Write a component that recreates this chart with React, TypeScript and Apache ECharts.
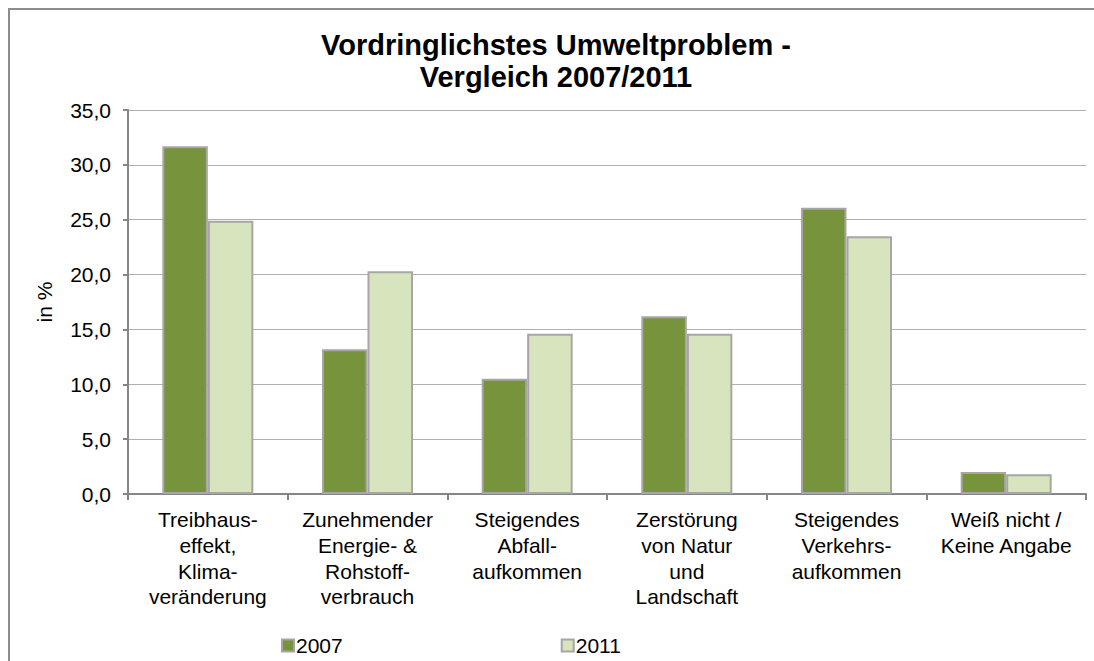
import React, { useEffect, useRef } from "react";
import * as echarts from "echarts";

const categories = [
  "Treibhaus-\neffekt,\nKlima-\nveränderung",
  "Zunehmender\nEnergie- &\nRohstoff-\nverbrauch",
  "Steigendes\nAbfall-\naufkommen",
  "Zerstörung\nvon Natur\nund\nLandschaft",
  "Steigendes\nVerkehrs-\naufkommen",
  "Weiß nicht /\nKeine Angabe",
];
const values2007 = [31.7, 13.2, 10.5, 16.2, 26.1, 2.0];
const values2011 = [24.9, 20.3, 14.6, 14.6, 23.5, 1.8];
const seriesNames = ["2007", "2011"];
const titleText = "Vordringlichstes Umweltproblem -\nVergleich 2007/2011";
const yAxisName = "in %";

const FONT = "'Liberation Sans', Arial, sans-serif";

export default function App() {
  const ref = useRef<HTMLDivElement>(null);
  useEffect(() => {
    document.body.style.margin = "0";
    document.documentElement.style.overflow = "hidden";
    if (!ref.current) return;
    const chart = echarts.init(ref.current, null, { renderer: "svg" });
    chart.setOption({
      animation: false,
      backgroundColor: "#ffffff",
      textStyle: { fontFamily: FONT },
      title: {
        text: titleText,
        left: 541,
        textAlign: "center",
        top: 14,
        textStyle: {
          fontFamily: FONT,
          fontSize: 29,
          fontWeight: "bold",
          color: "#000",
          lineHeight: 32,
        },
      },
      legend: {
        data: seriesNames,
        left: 266,
        top: 620,
        itemWidth: 12,
        itemHeight: 12,
        itemGap: 218,
        icon: "rect",
        textStyle: { fontFamily: FONT, fontSize: 21, color: "#000", padding: [0, 0, 0, -3] },
      },
      grid: { left: 118, right: 8, top: 100, bottom: 167, containLabel: false },
      xAxis: {
        type: "category",
        data: categories,
        axisLine: { show: true, lineStyle: { color: "#868686", width: 2 } },
        axisTick: { show: true, length: 6, interval: 0, lineStyle: { color: "#868686", width: 2 } },
        axisLabel: {
          interval: 0,
          margin: 13,
          fontFamily: FONT,
          fontSize: 21,
          color: "#000",
          lineHeight: 25.7,
          align: "center",
        },
      },
      yAxis: {
        type: "value",
        min: 0,
        max: 35,
        interval: 5,
        name: yAxisName,
        nameLocation: "middle",
        nameGap: 73,
        nameRotate: 90,
        nameTextStyle: { fontFamily: FONT, fontSize: 21, color: "#000" },
        axisLine: { show: true, lineStyle: { color: "#868686", width: 2 } },
        axisTick: { show: true, length: 5, lineStyle: { color: "#868686", width: 2 } },
        axisLabel: {
          margin: 17,
          fontFamily: FONT,
          fontSize: 21,
          color: "#000",
          formatter: (v: number) => v.toFixed(1).replace(".", ","),
        },
        splitLine: { show: true, lineStyle: { color: "#b0b0b0", width: 1 } },
      },
      series: [
        {
          name: seriesNames[0],
          type: "bar",
          data: values2007,
          barGap: "0%",
          barCategoryGap: "43%",
          itemStyle: { color: "#77933C", borderColor: "#a6a6a6", borderWidth: 2 },
        },
        {
          name: seriesNames[1],
          type: "bar",
          data: values2011,
          barGap: "0%",
          barCategoryGap: "43%",
          itemStyle: { color: "#D7E4BD", borderColor: "#a6a6a6", borderWidth: 2 },
        },
      ],
    });
    return () => chart.dispose();
  }, []);
  return (
    <div
      style={{
        width: 1094,
        height: 661,
        position: "relative",
        overflow: "hidden",
        background: "#fff",
      }}
    >
      <div
        style={{
          position: "absolute",
          left: 8,
          top: 8,
          width: 1200,
          height: 800,
          boxSizing: "border-box",
          borderTop: "2px solid #8c8c8c",
          borderLeft: "2px solid #8c8c8c",
        }}
      />
      <div
        ref={ref}
        style={{ position: "absolute", left: 10, top: 10, width: 1084, height: 651 }}
      />
    </div>
  );
}
